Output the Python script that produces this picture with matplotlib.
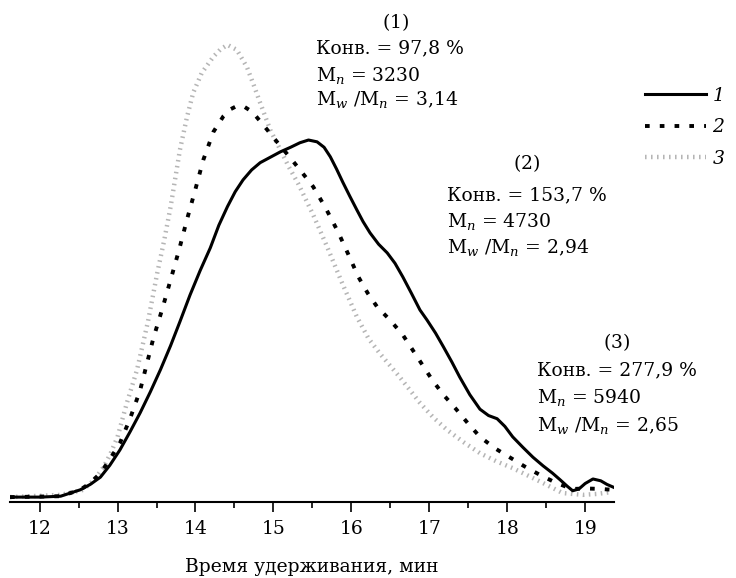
import numpy as np
import matplotlib
matplotlib.use('Agg')
import matplotlib.pyplot as plt
from matplotlib.ticker import MultipleLocator

plt.rcParams['font.family'] = ['DejaVu Serif']
plt.rcParams['mathtext.fontset'] = 'dejavuserif'

# retention time (min) and relative detector signal
t1 = [11.62, 12.01, 12.27, 12.52, 12.65, 12.78, 12.90, 13.03, 13.16, 13.29, 13.42,
      13.55, 13.68, 13.80, 13.93, 14.06, 14.19, 14.30, 14.41, 14.51, 14.61, 14.72,
      14.83, 14.96, 15.09, 15.22, 15.34, 15.45, 15.56, 15.65, 15.73, 15.81, 15.89,
      15.98, 16.07, 16.15, 16.24, 16.35, 16.46, 16.56, 16.66, 16.77, 16.88, 16.97,
      17.08, 17.18, 17.29, 17.39, 17.52, 17.65, 17.76, 17.87, 17.97, 18.07, 18.20,
      18.33, 18.46, 18.58, 18.68, 18.77, 18.84, 18.92, 19.00, 19.10, 19.20, 19.28,
      19.36]
y1 = [0.002, 0.002, 0.004, 0.018, 0.030, 0.046, 0.072, 0.106, 0.146, 0.188, 0.234,
      0.283, 0.336, 0.389, 0.448, 0.502, 0.552, 0.602, 0.643, 0.676, 0.702, 0.724,
      0.740, 0.752, 0.764, 0.774, 0.784, 0.790, 0.786, 0.774, 0.753, 0.726, 0.697,
      0.666, 0.636, 0.610, 0.585, 0.560, 0.541, 0.518, 0.488, 0.452, 0.415, 0.393,
      0.364, 0.334, 0.300, 0.267, 0.228, 0.196, 0.182, 0.175, 0.158, 0.135, 0.112,
      0.090, 0.071, 0.055, 0.040, 0.026, 0.016, 0.020, 0.032, 0.042, 0.038, 0.030,
      0.024]

t2 = [11.62, 12.27, 12.52, 12.65, 12.78, 12.90, 13.03, 13.16, 13.29, 13.46, 13.57,
      13.68, 13.79, 13.89, 14.00, 14.10, 14.23, 14.36, 14.45, 14.53, 14.63, 14.73,
      14.89, 15.05, 15.21, 15.36, 15.51, 15.67, 15.83, 15.96, 16.09, 16.21, 16.33,
      16.50, 16.66, 16.85, 17.04, 17.18, 17.33, 17.49, 17.65, 17.84, 18.03, 18.22,
      18.42, 18.62, 18.83, 19.02, 19.20, 19.36]
y2 = [0.002, 0.004, 0.018, 0.033, 0.055, 0.085, 0.121, 0.175, 0.238, 0.353, 0.415,
      0.481, 0.548, 0.614, 0.682, 0.746, 0.808, 0.843, 0.858, 0.865, 0.863, 0.852,
      0.819, 0.785, 0.752, 0.720, 0.687, 0.640, 0.587, 0.538, 0.488, 0.452, 0.422,
      0.392, 0.360, 0.310, 0.260, 0.228, 0.199, 0.166, 0.135, 0.110, 0.090, 0.070,
      0.051, 0.034, 0.020, 0.021, 0.020, 0.018]

t3 = [11.62, 12.27, 12.56, 12.70, 12.82, 12.91, 13.00, 13.12, 13.25, 13.39, 13.51,
      13.60, 13.68, 13.80, 13.89, 13.97, 14.08, 14.23, 14.32, 14.41, 14.53, 14.66,
      14.75, 14.83, 14.96, 15.09, 15.20, 15.32, 15.51, 15.69, 15.88, 16.07, 16.22,
      16.37, 16.62, 16.88, 17.05, 17.23, 17.45, 17.65, 17.86, 18.07, 18.26, 18.46,
      18.71, 18.97, 19.15, 19.33]
y3 = [0.002, 0.007, 0.018, 0.040, 0.068, 0.098, 0.135, 0.210, 0.283, 0.389, 0.497,
      0.570, 0.642, 0.768, 0.840, 0.894, 0.938, 0.974, 0.990, 1.000, 0.989, 0.951,
      0.910, 0.872, 0.812, 0.768, 0.730, 0.693, 0.625, 0.554, 0.475, 0.400, 0.352,
      0.318, 0.267, 0.210, 0.178, 0.150, 0.122, 0.099, 0.081, 0.066, 0.050, 0.033,
      0.011, 0.007, 0.009, 0.013]

labels = ['1', '2', '3']
conv = ['97,8', '153,7', '277,9']
mn = ['3230', '4730', '5940']
pdi = ['3,14', '2,94', '2,65']

fig = plt.figure(figsize=(7.36, 5.78), dpi=100)
ax = fig.add_axes([10 / 736, 1 - 502 / 578, 604 / 736, 502 / 578])

ax.plot(t3, y3, color='#b5b5b5', lw=3.2, linestyle=(0, (0.35, 1.0)), label=labels[2])
ax.plot(t2, y2, color='black', lw=2.8, linestyle=(0, (1.2, 2.6)), label=labels[1])
ax.plot(t1, y1, color='black', lw=2.2, solid_joinstyle='round', label=labels[0])

ax.set_xlim(11.62, 19.37)
ax.set_ylim(-0.0088, 1.099)
ax.xaxis.set_major_locator(MultipleLocator(1))
ax.xaxis.set_minor_locator(MultipleLocator(0.5))
ax.tick_params(axis='x', which='major', direction='out', length=7, width=1.2,
               labelsize=13.5, pad=6)
ax.tick_params(axis='x', which='minor', direction='out', length=4, width=1.2)
ax.set_yticks([])
for s in ['left', 'right', 'top']:
    ax.spines[s].set_visible(False)
ax.spines['bottom'].set_linewidth(1.5)
ax.set_xlabel('Время удерживания, мин', fontsize=13.5, labelpad=14)

# annotation blocks: header centre, block left edge, line y positions (px)
W, H = 736, 578
blocks = [(396, 316, [22, 48, 75, 100]),
          (527, 447, [163, 195, 222, 247]),
          (617, 537, [342, 370, 397, 425])]
for i, (cx, lx, ys) in enumerate(blocks):
    fig.text(cx / W, 1 - ys[0] / H, r'($\mathit{' + labels[i] + '}$)',
             ha='center', va='center', fontsize=13.5)
    fig.text(lx / W, 1 - ys[1] / H, 'Конв. = ' + conv[i] + ' %',
             ha='left', va='center', fontsize=13.5)
    fig.text(lx / W, 1 - ys[2] / H, r'M$_n$ = ' + mn[i],
             ha='left', va='center', fontsize=13.5)
    fig.text(lx / W, 1 - ys[3] / H, r'M$_w$ /M$_n$ = ' + pdi[i],
             ha='left', va='center', fontsize=13.5)

h, l = ax.get_legend_handles_labels()
fig.legend(h[::-1], l[::-1], loc='upper left', bbox_to_anchor=(628 / 736, 1 - 70 / 578),
           frameon=False, handlelength=3.25, handletextpad=0.35, labelspacing=0.72,
           prop={'style': 'italic', 'size': 13.5})

fig.savefig('out.png', dpi=100)
